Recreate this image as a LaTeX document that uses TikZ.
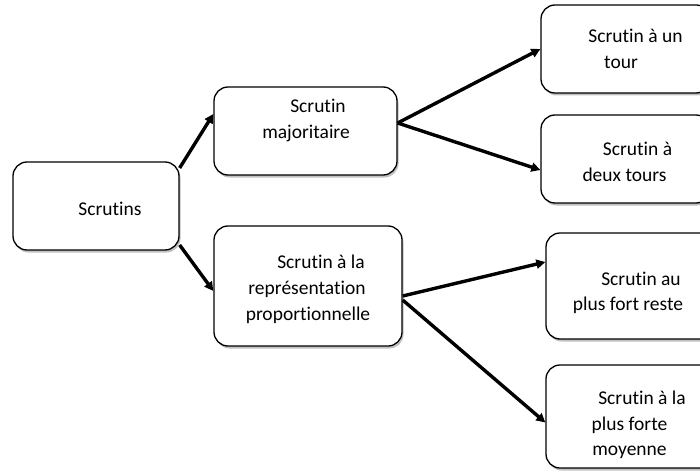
\documentclass[tikz,border=0pt]{standalone}
\usepackage{fontspec}
\setmainfont{Carlito}[RawFeature={-liga;-clig}]
\usetikzlibrary{arrows.meta,shadows}
\begin{document}
\begin{tikzpicture}[x=1pt,y=-1pt,
  box/.style={draw=black, line width=1.3pt, rounded corners=14pt, fill=white,
    inner sep=0pt,
    drop shadow={shadow xshift=1.5pt, shadow yshift=-2.5pt, opacity=0.35, fill=black!70}},
  label/.style={anchor=base, inner sep=0pt, font=\fontsize{19.5}{24}\selectfont},
  link/.style={line width=3.4pt, -{Triangle[length=9pt,width=9pt]}}]
\useasboundingbox (0,0) rectangle (700,473);
\clip (0,0) rectangle (700,473);

% boxes
\node[box, minimum width=166pt, minimum height=88pt] (scr) at (96,206) {};
\node[box, minimum width=183pt, minimum height=88pt] (maj) at (305.5,131) {};
\node[box, minimum width=188pt, minimum height=120pt] (prop) at (308,286) {};
\node[box, minimum width=169pt, minimum height=88pt] (un) at (625.5,49) {};
\node[box, minimum width=169pt, minimum height=88pt] (deux) at (625.5,159) {};
\node[box, minimum width=169pt, minimum height=106pt] (reste) at (630.5,286) {};
\node[box, minimum width=169pt, minimum height=103pt] (moy) at (630.5,416.5) {};

% texts
\node[label] (t1) at (110,215) {Scrutins};
\node[label] (t2a) at (318,113) {Scrutin};
\node[label] (t2b) at (306,139) {majoritaire};
\node[label] (t3a) at (321,268) {Scrutin à la};
\node[label] (t3b) at (307,294) {représentation};
\node[label] (t3c) at (308,320) {proportionnelle};
\node[label] (t4a) at (635.5,43) {Scrutin à un};
\node[label] (t4b) at (621,69) {tour};
\node[label] (t5a) at (637.5,155) {Scrutin à};
\node[label] (t5b) at (624.5,181) {deux tours};
\node[label] (t6a) at (641,285) {Scrutin au};
\node[label] (t6b) at (628,310) {plus fort reste};
\node[label] (t7a) at (642,404) {Scrutin à la};
\node[label] (t7b) at (629.5,430) {plus forte};
\node[label] (t7c) at (629.5,455) {moyenne};

% connectors
\draw[link] ([yshift=38pt]scr.east) -- ([yshift=17pt]maj.west);
\draw[link] ([yshift=-39pt]scr.east) -- ([yshift=-5pt]prop.west);
\draw[link] ([yshift=8pt]maj.east) -- (un.west);
\draw[link] ([yshift=8pt]maj.east) -- ([yshift=-11pt]deux.west);
\draw[link] ([yshift=-10pt]prop.east) -- ([yshift=24pt]reste.west);
\draw[link] ([yshift=-14pt]prop.east) -- ([yshift=-6pt]moy.west);
\end{tikzpicture}
\end{document}
